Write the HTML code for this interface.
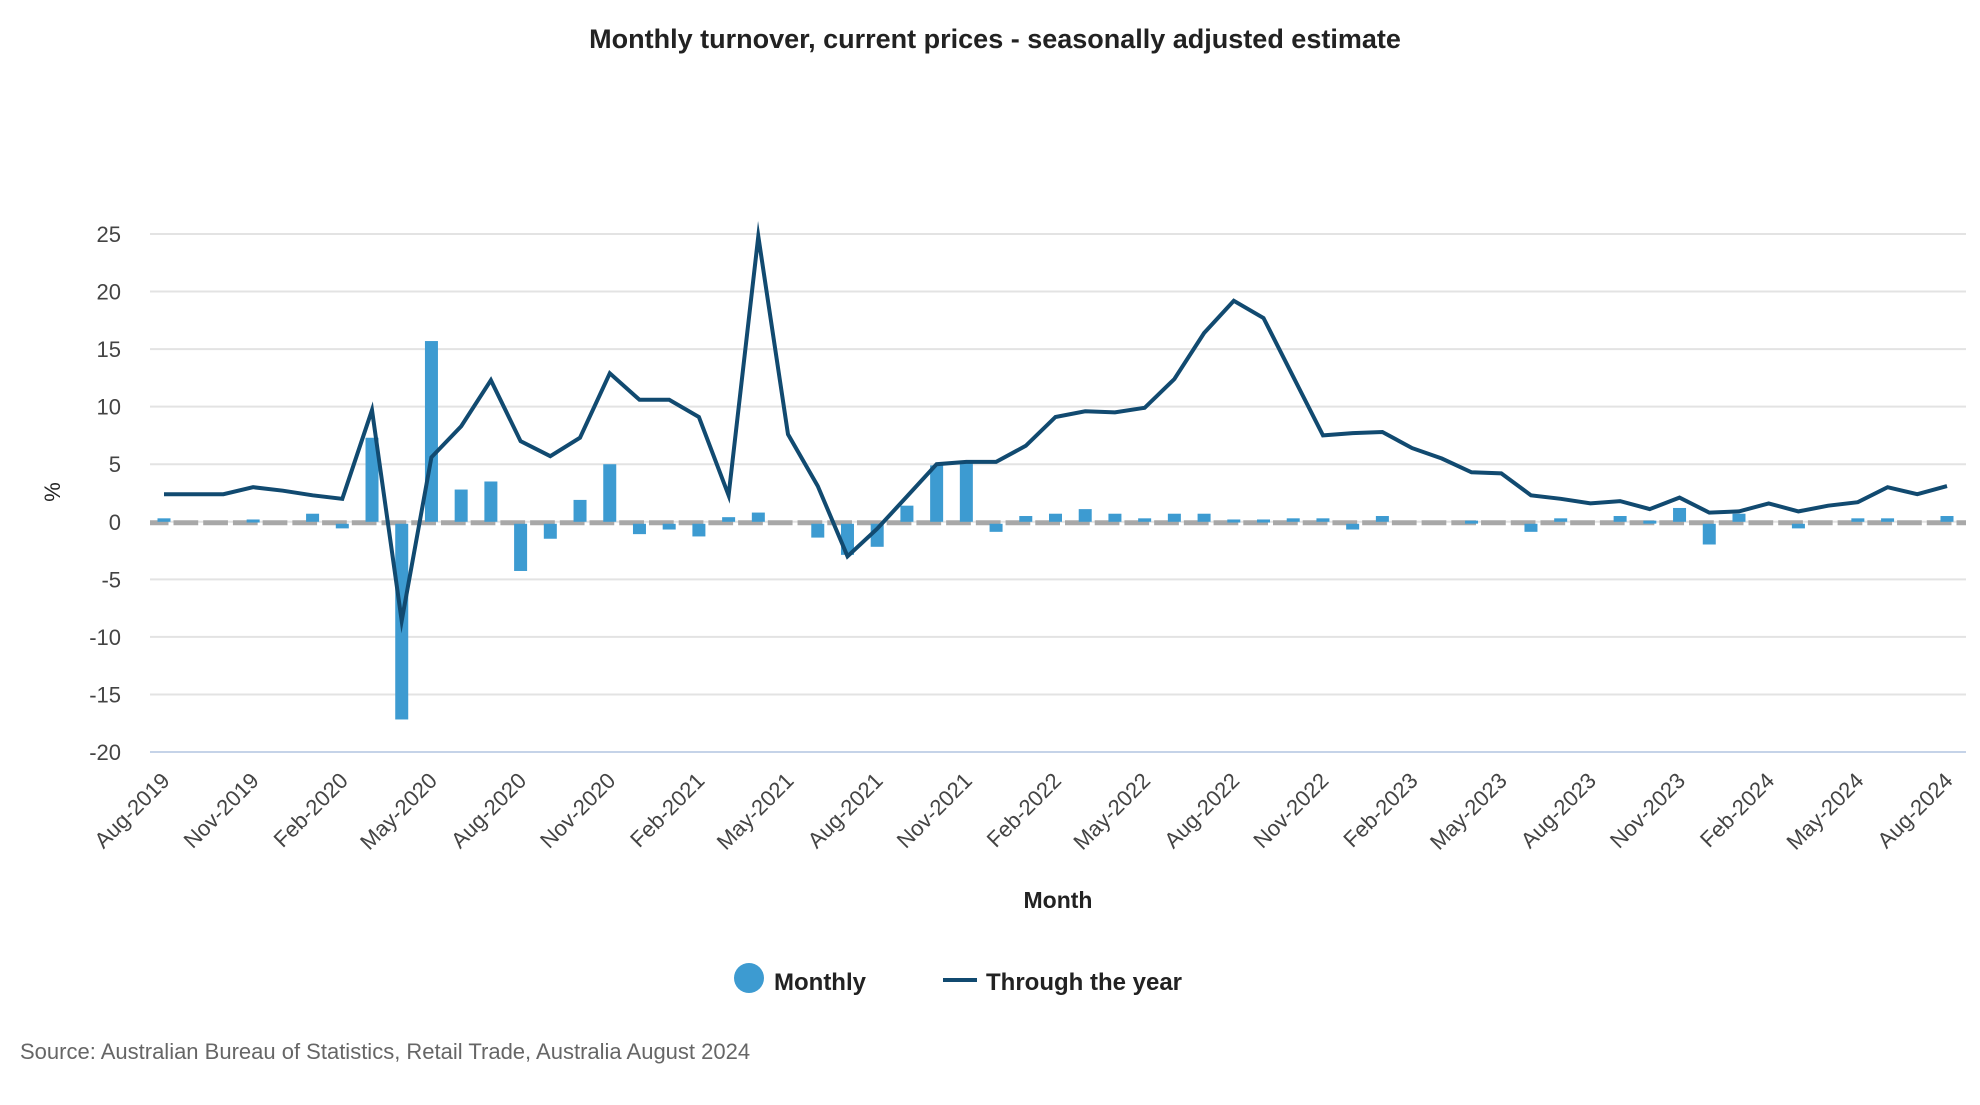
<!DOCTYPE html>
<html><head><meta charset="utf-8"><style>
html,body{margin:0;padding:0;background:#fff;}
svg text{font-family:"Liberation Sans",sans-serif;}
</style></head><body>
<svg id="chart" width="1980" height="1100" viewBox="0 0 1980 1100" xmlns="http://www.w3.org/2000/svg">
<text x="995" y="48" text-anchor="middle" font-size="27" font-weight="bold" fill="#222">Monthly turnover, current prices - seasonally adjusted estimate</text>
<g id="grid"></g>
<g id="zero"></g>
<g id="bars"></g>
<g id="line"></g>
<g id="yticks"></g>
<g id="xticks"></g>
<text x="0" y="0" transform="translate(60,492) rotate(-90)" text-anchor="middle" font-size="22" fill="#222">%</text>
<text x="1058" y="908" text-anchor="middle" font-size="23" font-weight="bold" fill="#222">Month</text>
<g>
<g>
<circle cx="749" cy="978" r="15" fill="#3d9bd1"/>
<text x="774" y="990" font-size="24" font-weight="bold" fill="#222">Monthly</text>
</g>
<g>
<line x1="943" y1="980" x2="977" y2="980" stroke="#114a70" stroke-width="4"/>
<text x="986" y="990" font-size="24" font-weight="bold" fill="#222">Through the year</text>
</g>
</g>
<text x="20" y="1059" font-size="22" fill="#666">Source: Australian Bureau of Statistics, Retail Trade, Australia August 2024</text>
</svg>
<script>
const months = ["Aug-2019","Sep-2019","Oct-2019","Nov-2019","Dec-2019","Jan-2020","Feb-2020","Mar-2020","Apr-2020","May-2020","Jun-2020","Jul-2020","Aug-2020","Sep-2020","Oct-2020","Nov-2020","Dec-2020","Jan-2021","Feb-2021","Mar-2021","Apr-2021","May-2021","Jun-2021","Jul-2021","Aug-2021","Sep-2021","Oct-2021","Nov-2021","Dec-2021","Jan-2022","Feb-2022","Mar-2022","Apr-2022","May-2022","Jun-2022","Jul-2022","Aug-2022","Sep-2022","Oct-2022","Nov-2022","Dec-2022","Jan-2023","Feb-2023","Mar-2023","Apr-2023","May-2023","Jun-2023","Jul-2023","Aug-2023","Sep-2023","Oct-2023","Nov-2023","Dec-2023","Jan-2024","Feb-2024","Mar-2024","Apr-2024","May-2024","Jun-2024","Jul-2024","Aug-2024"];
const monthly = [0.3,0,0,0.2,0,0.7,-0.4,7.3,-17.0,15.7,2.8,3.5,-4.1,-1.3,1.9,5.0,-0.9,-0.5,-1.1,0.4,0.8,0,-1.2,-2.7,-2.0,1.4,4.9,5.2,-0.7,0.5,0.7,1.1,0.7,0.3,0.7,0.7,0.2,0.2,0.3,0.3,-0.5,0.5,0,0,0.1,0,-0.7,0.3,0,0.5,0.1,1.2,-1.8,0.7,0,-0.4,0,0.3,0.3,0,0.5];
const throughYear = [2.4,2.4,2.4,3.0,2.7,2.3,2.0,9.7,-8.6,5.6,8.3,12.3,7.0,5.7,7.3,12.9,10.6,10.6,9.1,2.3,24.8,7.6,3.1,-3.0,-0.6,2.2,5.0,5.2,5.2,6.6,9.1,9.6,9.5,9.9,12.4,16.4,19.2,17.7,12.6,7.5,7.7,7.8,6.4,5.5,4.3,4.2,2.3,2.0,1.6,1.8,1.1,2.1,0.8,0.9,1.6,0.9,1.4,1.7,3.0,2.4,3.1];
const yTicks = [25,20,15,10,5,0,-5,-10,-15,-20];

const NS = "http://www.w3.org/2000/svg";
const X0 = 164, X1 = 1947, PL = 150, PR = 1966;
const Y25 = 234, Ym20 = 752;
const step = (X1 - X0) / (months.length - 1);
const x = i => X0 + i * step;
const y = v => Y25 + (25 - v) * (Ym20 - Y25) / 45;
function mk(tag, attrs, parent) {
  const e = document.createElementNS(NS, tag);
  for (const k in attrs) e.setAttribute(k, attrs[k]);
  document.getElementById(parent).appendChild(e);
  return e;
}
yTicks.forEach(t => {
  const g = mk("line", {x1: PL, x2: PR, y1: y(t), y2: y(t), stroke: t === -20 ? "#c5d3e8" : "#e3e3e3", "stroke-width": 2}, "grid");
  
  
  const lb = mk("text", {x: 121, y: y(t) + 8, "text-anchor": "end", "font-size": 22, fill: "#444"}, "yticks");
  lb.textContent = t;
  
  
});
const bw = 13;
const z = mk("line", {x1: PL, x2: PR, y1: y(0) + 1, y2: y(0) + 1, stroke: "#a8a8a8", "stroke-width": 5, "stroke-dasharray": (step - 5) + " 5", "stroke-dashoffset": -(x(0) + bw / 2 + 3 - PL)}, "zero");


monthly.forEach((v, i) => {
  if (v === 0) return;
  const top = v > 0 ? y(v) : y(0) + 2;
  const h = Math.max(Math.abs(y(v) - y(0)), 3);
  const b = mk("rect", {x: x(i) - bw / 2, y: top, width: bw, height: h, fill: "#3d9bd1"}, "bars");
  
  
});
const pts = throughYear.map((v, i) => x(i).toFixed(1) + "," + y(v).toFixed(1)).join(" ");
const ln = mk("polyline", {points: pts, fill: "none", stroke: "#114a70", "stroke-width": 4, "stroke-linejoin": "miter", "stroke-miterlimit": 10}, "line");


months.forEach((m, i) => {
  if (i % 3 !== 0) return;
  const t = mk("text", {x: 0, y: 0, transform: "translate(" + (x(i) + 7) + ",782) rotate(-45)", "text-anchor": "end", "font-size": 22, fill: "#444"}, "xticks");
  t.textContent = m;
  
  
});
</script>
</body></html>
